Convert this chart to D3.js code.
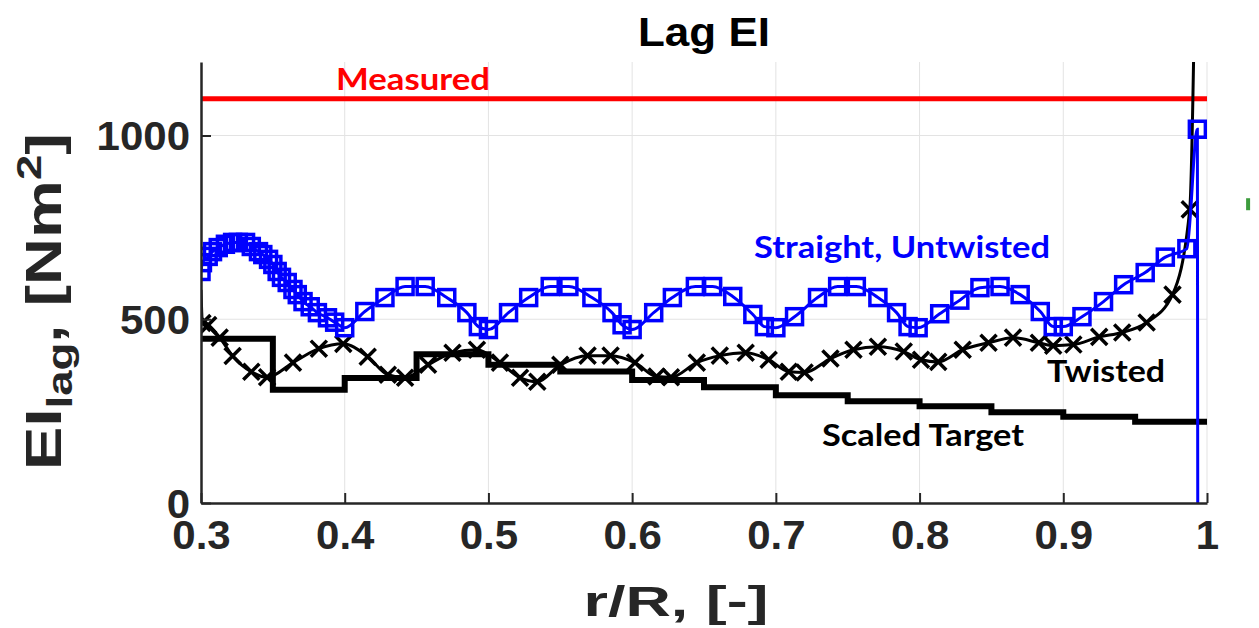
<!DOCTYPE html>
<html>
<head>
<meta charset="utf-8">
<script src="https://cdn.jsdelivr.net/npm/d3@7"></script>
<style>
  body { margin: 0; background: #fff; }
  svg { display: block; }
</style>
</head>
<body>
<svg></svg>
<script>
// blade lag stiffness along span
const measured = 1100;

// scaled target (piecewise constant): [r start, r end, EI]
const targetSteps = [
  [0.30, 0.35, 447], [0.35, 0.40, 308], [0.40, 0.45, 340], [0.45, 0.50, 405],
  [0.50, 0.55, 376], [0.55, 0.60, 358], [0.60, 0.65, 335], [0.65, 0.70, 315],
  [0.70, 0.75, 293], [0.75, 0.80, 277], [0.80, 0.85, 263], [0.85, 0.90, 247],
  [0.90, 0.95, 235], [0.95, 1.00, 221]
];

// twisted beam
const twisted = [
  [0.300, 580], [0.301, 490], [0.305, 484], [0.313, 450], [0.322, 400], [0.335, 357],
  [0.346, 342], [0.364, 382], [0.382, 420], [0.399, 433], [0.416, 398], [0.430, 349],
  [0.442, 341], [0.458, 376], [0.475, 409], [0.492, 417], [0.508, 382], [0.522, 341],
  [0.534, 330], [0.550, 376], [0.569, 401], [0.585, 401], [0.602, 382], [0.617, 344],
  [0.627, 342], [0.645, 382], [0.661, 401], [0.679, 409], [0.695, 390], [0.709, 357],
  [0.720, 355], [0.738, 393], [0.754, 417], [0.771, 425], [0.789, 412], [0.801, 390],
  [0.813, 384], [0.830, 417], [0.848, 436], [0.865, 450], [0.883, 436], [0.893, 428],
  [0.907, 431], [0.925, 452], [0.941, 464], [0.958, 491], [0.976, 567], [0.988, 799],
  [0.993, 1800]
];

// straight, untwisted beam
const straight = [
  [0.300, 630], [0.301, 654], [0.305, 671], [0.308, 684], [0.312, 695], [0.317, 704],
  [0.322, 709], [0.326, 709], [0.331, 709], [0.335, 698], [0.340, 684], [0.343, 676],
  [0.347, 663], [0.350, 649], [0.353, 630], [0.356, 614], [0.360, 600], [0.364, 581],
  [0.367, 567], [0.371, 548], [0.376, 534], [0.381, 518], [0.388, 504], [0.393, 492],
  [0.400, 477],
  [0.414, 521], [0.428, 559], [0.442, 589], [0.456, 589], [0.471, 559], [0.485, 518], [0.493, 480], [0.500, 472],
  [0.514, 518], [0.528, 559], [0.543, 589], [0.556, 589], [0.572, 559], [0.586, 518], [0.593, 485], [0.600, 472],
  [0.615, 518], [0.628, 559], [0.644, 589], [0.656, 589], [0.670, 562], [0.684, 513], [0.692, 480], [0.700, 477],
  [0.713, 507], [0.729, 559], [0.743, 589], [0.756, 589], [0.771, 559], [0.784, 518], [0.792, 480], [0.799, 477],
  [0.814, 515], [0.828, 552], [0.842, 586], [0.856, 589], [0.870, 567], [0.884, 521], [0.893, 480], [0.900, 480],
  [0.913, 507], [0.928, 548], [0.942, 594], [0.957, 627], [0.971, 669], [0.986, 692], [0.9933, 1017],
  [0.9936, -100]
];

// stray green marker just outside the axes
const stray = [[1.0286, 813]];

const xTicks = [0.3, 0.4, 0.5, 0.6, 0.7, 0.8, 0.9, 1];
const yTicks = [0, 500, 1000];

const labels = [
  { text: 'Measured', r: 0.4475, v: 1124, len: 154, color: '#ff0000' },
  { text: 'Straight, Untwisted', r: 0.7878, v: 667, len: 296, color: '#0000ff' },
  { text: 'Twisted', r: 0.9298, v: 329, len: 118, color: '#000' },
  { text: 'Scaled Target', r: 0.8024, v: 155, len: 202, color: '#000' }
];

const width = 1259, height = 628;
const margin = { left: 201, right: 52, top: 62, bottom: 125 };

const svg = d3.select('svg')
  .attr('width', width)
  .attr('height', height);

const x = d3.scaleLinear().domain([0.3, 1]).range([margin.left, width - margin.right]);
const y = d3.scaleLinear().domain([0, 1200]).range([height - margin.bottom, margin.top]);

svg.append('defs').append('clipPath').attr('id', 'plot')
  .append('rect')
    .attr('x', x(0.3)).attr('y', y(1200))
    .attr('width', x(1) - x(0.3)).attr('height', y(0) - y(1200));

// grid
const grid = svg.append('g').attr('stroke', '#e3e3e3').attr('stroke-width', 1);
grid.selectAll('.gx').data(xTicks.slice(1)).enter().append('line')
  .attr('x1', d => x(d)).attr('x2', d => x(d))
  .attr('y1', y(0)).attr('y2', y(1200));
grid.selectAll('.gy').data(yTicks.slice(1)).enter().append('line')
  .attr('x1', x(0.3)).attr('x2', x(1))
  .attr('y1', d => y(d)).attr('y2', d => y(d));

const plot = svg.append('g').attr('clip-path', 'url(#plot)');

// measured
plot.append('line')
  .attr('x1', x(0.3)).attr('x2', x(1))
  .attr('y1', y(measured)).attr('y2', y(measured))
  .attr('stroke', '#ff0000').attr('stroke-width', 5);

// scaled target steps
let stepPts = [];
targetSteps.forEach(s => { stepPts.push([s[0], s[2]]); stepPts.push([s[1], s[2]]); });
plot.append('path')
  .datum(stepPts)
  .attr('fill', 'none').attr('stroke', '#000').attr('stroke-width', 6)
  .attr('d', d3.line().x(d => x(d[0])).y(d => y(d[1])));

// twisted
plot.append('path')
  .datum(twisted)
  .attr('fill', 'none').attr('stroke', '#000').attr('stroke-width', 3)
  .attr('d', d3.line().curve(d3.curveMonotoneX).x(d => x(d[0])).y(d => y(d[1])));

const cross = d3.symbol().type(d3.symbolTimes).size(170);
plot.selectAll('.xm').data(twisted.slice(1)).enter().append('path')
  .attr('transform', d => `translate(${x(d[0])},${y(d[1])})`)
  .attr('d', cross)
  .attr('fill', 'none').attr('stroke', '#000').attr('stroke-width', 3.5);

// straight, untwisted
plot.append('path')
  .datum(straight)
  .attr('fill', 'none').attr('stroke', '#0000ff').attr('stroke-width', 3)
  .attr('d', d3.line().curve(d3.curveMonotoneX).x(d => x(d[0])).y(d => y(d[1])));

plot.selectAll('.sq').data(straight.slice(0, -1)).enter().append('rect')
  .attr('x', d => x(d[0]) - 8).attr('y', d => y(d[1]) - 8)
  .attr('width', 16).attr('height', 16)
  .attr('fill', 'none').attr('stroke', '#0000ff').attr('stroke-width', 3.5);

svg.selectAll('.stray').data(stray).enter().append('rect')
  .attr('x', d => x(d[0]) - 2).attr('y', d => y(d[1]) - 6)
  .attr('width', 4).attr('height', 12)
  .attr('fill', '#3c9c3c');

// axes
const tickFont = 'Liberation Sans, Arial, sans-serif';
const xAxis = svg.append('g')
  .attr('transform', `translate(0,${y(0)})`)
  .call(d3.axisBottom(x).tickValues(xTicks).tickFormat(d3.format('')).tickSizeInner(-10).tickSizeOuter(0).tickPadding(18));
const yAxis = svg.append('g')
  .attr('transform', `translate(${x(0.3)},0)`)
  .call(d3.axisLeft(y).tickValues(yTicks).tickFormat(d3.format('d')).tickSizeInner(-10).tickSizeOuter(0).tickPadding(11));

[xAxis, yAxis].forEach(a => {
  a.select('.domain').attr('stroke', '#262626').attr('stroke-width', 2.5);
  a.selectAll('.tick line').attr('stroke', '#262626').attr('stroke-width', 2);
  a.selectAll('.tick text')
    .attr('fill', '#262626')
    .style('font-family', tickFont).style('font-weight', 'bold').style('font-size', '40px');
});
xAxis.selectAll('.tick text').attr('dy', '0.71em');
yAxis.selectAll('.tick text').attr('dy', '0.36em');
// the figure is stretched sideways a little, widen the tick labels to match
svg.selectAll('.tick text').each(function() {
  const len = this.getComputedTextLength();
  d3.select(this).attr('textLength', len * 1.05).attr('lengthAdjust', 'spacingAndGlyphs');
});

// title
svg.append('text')
  .attr('x', 704).attr('y', 46)
  .attr('text-anchor', 'middle')
  .attr('textLength', 132).attr('lengthAdjust', 'spacingAndGlyphs')
  .style('font-family', tickFont).style('font-weight', 'bold').style('font-size', '40px')
  .attr('fill', '#000')
  .text('Lag EI');

// x label
svg.append('text')
  .attr('x', 676).attr('y', 616)
  .attr('text-anchor', 'middle')
  .attr('textLength', 185).attr('lengthAdjust', 'spacingAndGlyphs')
  .style('font-family', tickFont).style('font-weight', 'bold').style('font-size', '42px')
  .attr('fill', '#262626')
  .text('r/R, [-]');

// y label
const yl = svg.append('text')
  .style('font-family', tickFont).style('font-weight', 'bold').style('font-size', '50px')
  .attr('fill', '#262626');
yl.append('tspan').text('EI');
yl.append('tspan').attr('dy', 11).style('font-size', '35px').text('lag');
yl.append('tspan').attr('dy', -11).text(', [Nm');
yl.append('tspan').attr('dy', -20).style('font-size', '35px').text('2');
yl.append('tspan').attr('dy', 20).text(']');
const ylen = yl.node().getComputedTextLength();
yl.attr('transform', `translate(61,470) rotate(-90) scale(${337 / ylen},1)`);

// annotations
svg.selectAll('.lab').data(labels).enter().append('text')
  .attr('x', d => x(d.r)).attr('y', d => y(d.v))
  .attr('text-anchor', 'middle')
  .attr('textLength', d => d.len).attr('lengthAdjust', 'spacingAndGlyphs')
  .style('font-family', 'Lato, sans-serif').style('font-weight', 'bold').style('font-size', '31px')
  .attr('fill', d => d.color)
  .text(d => d.text);
</script>
</body>
</html>
